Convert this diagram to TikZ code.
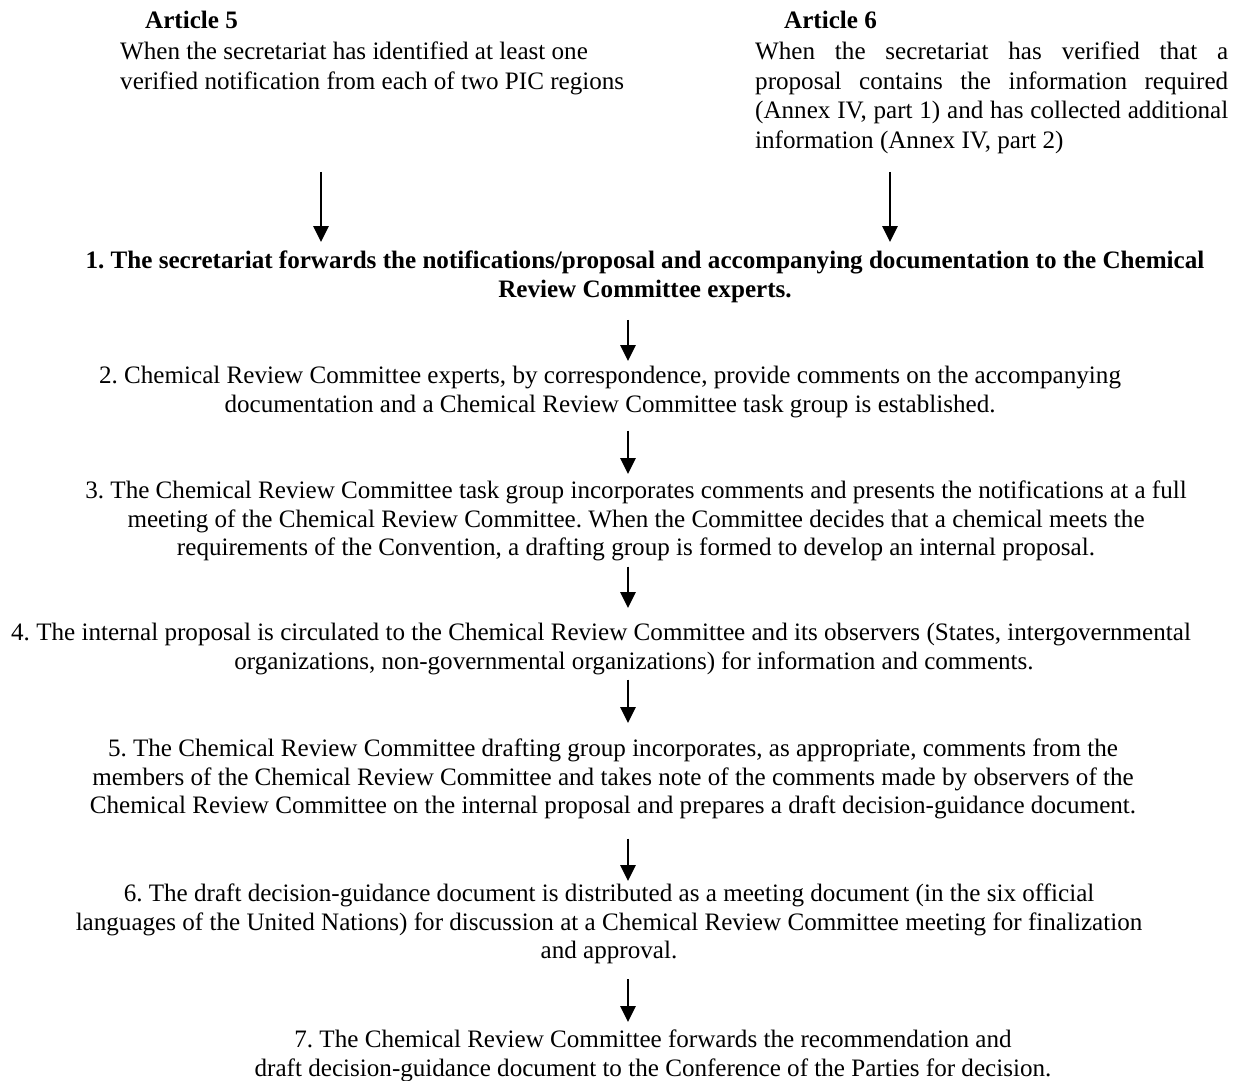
\documentclass[tikz,border=0pt]{standalone}
\usepackage{fontspec}
\setmainfont{Liberation Serif}
\usetikzlibrary{arrows.meta}
\frenchspacing

\begin{document}
\begin{tikzpicture}[x=1pt, y=-1pt,
    article/.style={inner sep=0pt, anchor=base west,
        font=\fontsize{25.1}{29.5}\selectfont\bfseries},
    cond/.style={inner sep=0pt, anchor=north west,
        font=\fontsize{25.1}{29.5}\selectfont},
    stage/.style={inner sep=0pt, anchor=north, align=center,
        font=\fontsize{25.1}{28.5}\selectfont},
    flow/.style={-{Triangle[length=16pt,width=15pt]}, line width=2.9pt}
]
\useasboundingbox (0,0) rectangle (1243,1080);

\node (Art05) [article] at (145,28) {Article 5};
\node (Art06) [article] at (784,28) {Article 6};
\node (Cond05) [cond, align=left] at (120,42)
    {When the secretariat has identified at least one\\
     verified notification from each of two PIC regions};
\node (Cond06) [cond, text width=473pt, align=justify] at (755,42)
    {When the secretariat has verified that a\linebreak
     proposal contains the information required\linebreak
     (Annex IV, part 1) and has collected additional\linebreak
     information (Annex IV, part 2)};

\node (Stage01) [stage, font=\fontsize{25.1}{28.5}\selectfont\bfseries] at (645,251)
    {1. The secretariat forwards the notifications/proposal and accompanying documentation to the Chemical\\
     Review Committee experts.};
\node (Stage02) [stage] at (610,366)
    {2. Chemical Review Committee experts, by correspondence, provide comments on the accompanying\\
     documentation and a Chemical Review Committee task group is established.};
\node (Stage03) [stage] at (636,481)
    {3. The Chemical Review Committee task group incorporates comments and presents the notifications at a full\\
     meeting of the Chemical Review Committee. When the Committee decides that a chemical meets the\\
     requirements of the Convention, a drafting group is formed to develop an internal proposal.};
\node (Stage04) [stage] at (634,623)
    {4. The internal proposal is circulated to the Chemical Review Committee and its observers (States, intergovernmental\hspace*{66pt}\\
     organizations, non-governmental organizations) for information and comments.};
\node (Stage05) [stage] at (613,739)
    {5. The Chemical Review Committee drafting group incorporates, as appropriate, comments from the\\
     members of the Chemical Review Committee and takes note of the comments made by observers of the\\
     Chemical Review Committee on the internal proposal and prepares a draft decision-guidance document.};
\node (Stage06) [stage] at (609,884)
    {6. The draft decision-guidance document is distributed as a meeting document (in the six official\\
     languages of the United Nations) for discussion at a Chemical Review Committee meeting for finalization\\
     and approval.};
\node (Stage07) [stage] at (653,1030)
    {7. The Chemical Review Committee forwards the recommendation and\\
     draft decision-guidance document to the Conference of the Parties for decision.};

\coordinate (Drop05) at (321,0);
\coordinate (Drop06) at (890,0);
\coordinate (Spine) at (628,0);

\draw[flow, shorten <=77pt, shorten >=9pt] (Cond05.south -| Drop05) -- (Stage01.north -| Drop05);
\draw[flow, shorten <=18pt, shorten >=9pt] (Cond06.south -| Drop06) -- (Stage01.north -| Drop06);
\draw[flow, shorten <=17pt, shorten >=5pt] (Stage01.south -| Spine) -- (Stage02.north -| Spine);
\draw[flow, shorten <=13pt, shorten >=7pt] (Stage02.south -| Spine) -- (Stage03.north -| Spine);
\draw[flow, shorten <=5pt, shorten >=15pt] (Stage03.south -| Spine) -- (Stage04.north -| Spine);
\draw[flow, shorten <=5pt, shorten >=16pt] (Stage04.south -| Spine) -- (Stage05.north -| Spine);
\draw[flow, shorten <=19pt, shorten >=3pt] (Stage05.south -| Spine) -- (Stage06.north -| Spine);
\draw[flow, shorten <=15pt, shorten >=8pt] (Stage06.south -| Spine) -- (Stage07.north -| Spine);
\end{tikzpicture}
\end{document}
